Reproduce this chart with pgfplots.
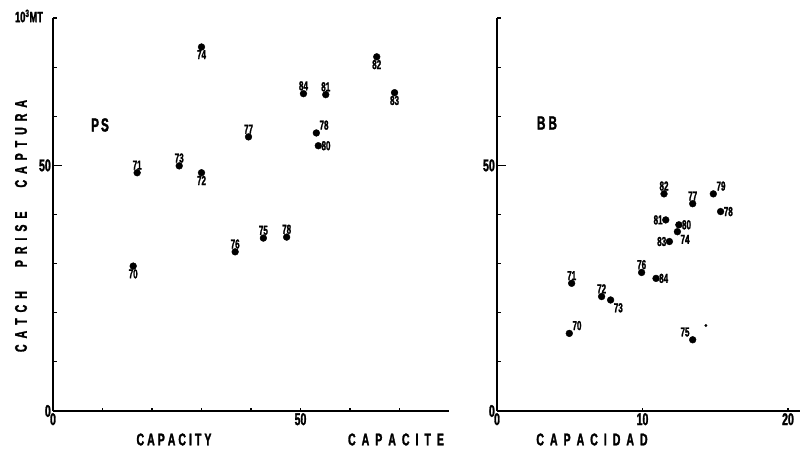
\documentclass[border=0pt]{standalone}
\usepackage{fontspec}
% heavy, narrow plotter-style lettering for every text in the figure
\setmainfont{Liberation Sans Bold}[FakeStretch=0.62, FakeBold=1.6]
\usepackage{pgfplots}
\pgfplotsset{compat=1.18}

\newcommand\tickfont{\fontsize{17}{17}\selectfont}

\pgfplotsset{
  panel/.style={
    scale only axis,
    axis lines=left,
    axis line style={line width=2.6pt,-},
    tick align=inside,
    major tick length=3.5pt,
    minor tick length=3.5pt,
    tick style={line width=1.2pt,black},
    ymin=0, ymax=80, height=393pt,
    ytick={0}, yticklabels={0},
    extra y ticks={50}, extra y tick labels={50},
    extra y tick style={major tick length=9pt},
    minor ytick={10,20,30,40,60,70,80},
    xticklabel style={font=\tickfont, inner sep=2pt},
    yticklabel style={font=\tickfont, inner sep=2pt},
    /pgf/number format/assume math mode=true,
    clip=false,
  },
  % year markers, label placed on side #1 of the dot
  yrs/.style={
    only marks, mark=*, mark size=3.4pt, black,
    point meta=explicit symbolic,
    nodes near coords,
    every node near coord/.append style={anchor=#1,
      font=\fontsize{13}{13}\selectfont, inner sep=3pt},
  },
}

\begin{document}
\begin{tikzpicture}[x=1pt,y=1pt]
\path[use as bounding box] (0,0) rectangle (802,451);

% PS: capacity vs catch
\begin{axis}[panel, at={(53pt,40pt)}, anchor=south west,
  width=396pt, xmin=0, xmax=80,
  xtick={0,50}, xticklabels={0,50},
  minor xtick={10,20,30,40,60,70}]
  \addplot[yrs=north] coordinates {(16.2,29.5)[70] (30.0,48.5)[72]
    (30.0,74.1)[74] (65.4,72.1)[82] (69.0,64.8)[83]};
  \addplot[yrs=south] coordinates {(17.0,48.5)[71] (25.5,49.9)[73]
    (39.5,55.8)[77] (36.8,32.4)[76] (42.5,35.2)[75] (47.2,35.4)[78]
    (50.6,64.6)[84] (55.1,64.4)[81]};
  \addplot[yrs=south west] coordinates {(53.2,56.6)[78]};
  \addplot[yrs=west] coordinates {(53.6,54.0)[80]};
\end{axis}

% BB
\begin{axis}[panel, at={(497pt,40pt)}, anchor=south west,
  width=302.6pt, xmin=0, xmax=20.8,
  xtick={0,10,20}, xticklabels={0,10,20}]
  \addplot[yrs=south] coordinates {(5.13,26.0)[71] (7.19,23.3)[72]
    (9.94,28.2)[76] (11.48,44.2)[82] (13.45,42.2)[77]};
  \addplot[yrs=south west] coordinates {(4.97,15.8)[70] (14.87,44.2)[79]};
  \addplot[yrs=north west] coordinates {(7.81,22.6)[73] (12.40,36.5)[74]};
  \addplot[yrs=west] coordinates {(10.93,27.0)[84] (12.50,37.9)[80]
    (15.37,40.6)[78]};
  \addplot[yrs=east] coordinates {(11.85,34.5)[83] (11.60,38.9)[81]};
  \addplot[yrs=south east] coordinates {(13.45,14.5)[75]};
  \addplot[only marks, mark=*, mark size=1.2pt, black] coordinates {(14.36,17.4)};
\end{axis}

% titles and panel names
\node[font=\fontsize{15}{15}\selectfont] at (29,435) {10\textsuperscript{3}MT};
\node[font=\fontsize{19}{19}\selectfont] at (100,326) {P\kern2pt S};
\node[font=\fontsize{19}{19}\selectfont] at (547,328) {B\kern3pt B};
\node[font=\fontsize{17}{17}\selectfont] at (174,11.5)
  {C\kern3pt A\kern3pt P\kern3pt A\kern3pt C\kern3pt I\kern3pt T\kern3pt Y};
\node[font=\fontsize{17}{17}\selectfont] at (396,11.5)
  {C\kern6pt A\kern6pt P\kern6pt A\kern6pt C\kern6pt I\kern6pt T\kern6pt E};
\node[font=\fontsize{17}{17}\selectfont] at (592,11.5)
  {C\kern6pt A\kern6pt P\kern6pt A\kern6pt C\kern6pt I\kern6pt D\kern6pt A\kern6pt D};
\node[rotate=90, font=\fontsize{17}{17}\selectfont] at (21,225)
  {C\kern6pt A\kern6pt T\kern6pt C\kern6pt H\kern24pt
   P\kern6pt R\kern6pt I\kern6pt S\kern6pt E\kern24pt
   C\kern6pt A\kern6pt P\kern6pt T\kern6pt U\kern6pt R\kern6pt A};
\end{tikzpicture}
\end{document}
